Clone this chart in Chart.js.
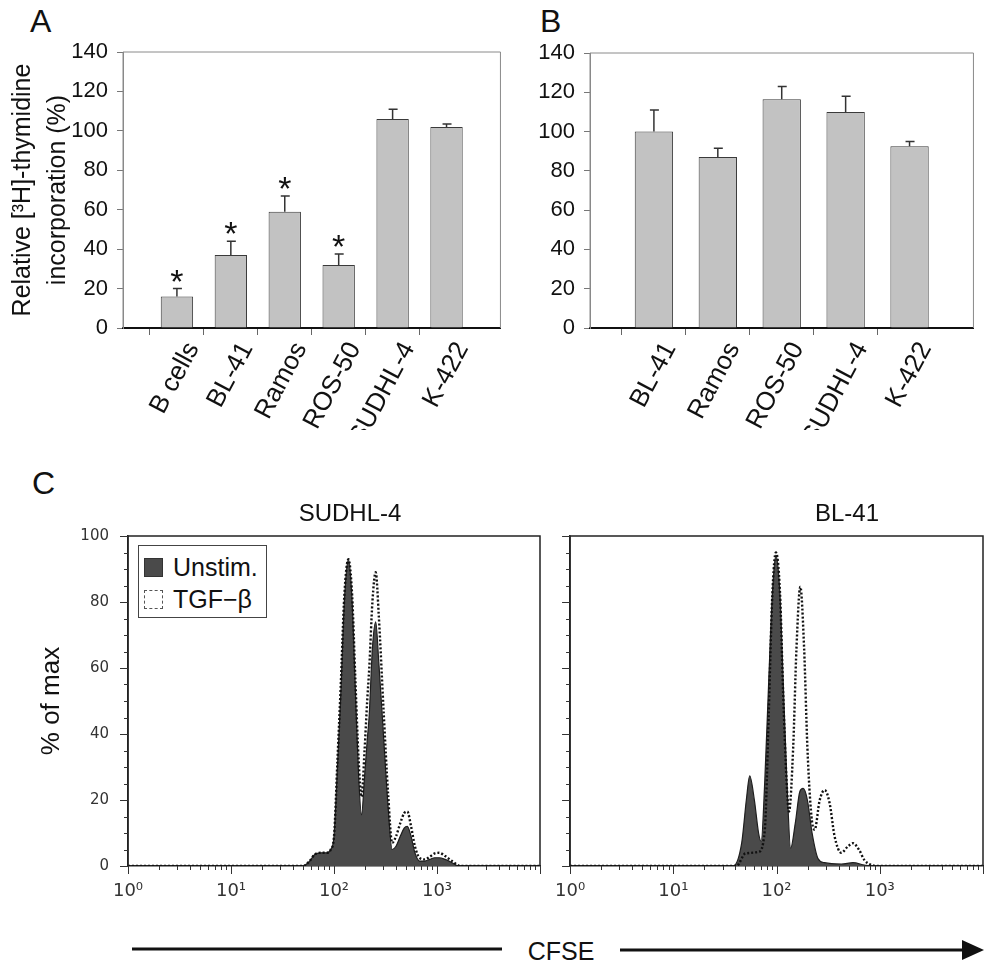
<!DOCTYPE html>
<html>
<head>
<meta charset="utf-8">
<script src="https://cdn.jsdelivr.net/npm/chart.js@4.4.1/dist/chart.umd.min.js"></script>
<style>
  html,body{margin:0;padding:0;background:#fff;}
  #wrap{position:relative;width:1003px;height:963px;background:#fff;overflow:hidden;font-family:"Liberation Sans",Arial,Helvetica,sans-serif;color:#111;}
  canvas{position:absolute;}
  .letter{position:absolute;font-size:32px;line-height:32px;color:#111;}
  .ctitle{position:absolute;font-size:24px;line-height:24px;color:#111;transform:translateX(-50%);white-space:nowrap;}
  #legend{position:absolute;left:138px;top:545px;width:129px;height:73px;border:1px solid #444;box-sizing:border-box;background:#fff;}
  .lrow{position:absolute;left:5px;height:24px;font-size:25px;line-height:24px;color:#111;white-space:nowrap;}
  .lsw{display:inline-block;width:19px;height:19px;box-sizing:border-box;vertical-align:-1px;margin-right:10px;}
</style>
</head>
<body>
<div id="wrap">
  <div class="letter" style="left:30px;top:5px;">A</div>
  <div class="letter" style="left:540px;top:5px;">B</div>
  <div class="letter" style="left:32px;top:467px;">C</div>
  <canvas id="cA" width="530" height="430" style="left:0;top:0;"></canvas>
  <canvas id="cB" width="503" height="430" style="left:500px;top:0;"></canvas>
  <canvas id="cC1" width="555" height="420" style="left:0;top:490px;"></canvas>
  <canvas id="cC2" width="463" height="420" style="left:540px;top:490px;"></canvas>
  <div class="ctitle" style="left:350px;top:501px;">SUDHL-4</div>
  <div class="ctitle" style="left:847px;top:501px;">BL-41</div>
  <div id="legend">
    <div class="lrow" style="top:9px;"><span class="lsw" style="background:#4a4a4a;border:1px solid #333;"></span>Unstim.</div>
    <div class="lrow" style="top:41px;"><span class="lsw" style="border:1px dashed #555;"></span>TGF−β</div>
  </div>
  <svg style="position:absolute;left:0;top:930px;" width="1003" height="40">
    <line x1="132" y1="19" x2="502" y2="19" stroke="#111" stroke-width="3"/>
    <line x1="620" y1="20" x2="964" y2="20" stroke="#111" stroke-width="3"/>
    <polygon points="962,10 984,20 962,30" fill="#111"/>
    <text x="561" y="30" font-size="25" text-anchor="middle" fill="#111" font-family="Liberation Sans, Arial, sans-serif">CFSE</text>
  </svg>
</div>
<script>
// ---------------- DATA ----------------
const catsA = ['B cells', 'BL-41', 'Ramos', 'ROS-50', 'SUDHL-4', 'K-422'];
const valsA = [16, 37, 59, 32, 106, 102];
const errA  = [4, 7, 8, 5.5, 5, 1.5];
const sigA  = [true, true, true, true, false, false];

const catsB = ['BL-41', 'Ramos', 'ROS-50', 'SUDHL-4', 'K-422'];
const valsB = [100, 87, 116.5, 110, 92.5];
const errB  = [11, 4.5, 6.5, 8, 2.5];
const sigB  = [false, false, false, false, false];

const barTicks = [0, 20, 40, 60, 80, 100, 120, 140];
const histYTicks = [0, 20, 40, 60, 80, 100];
const histXTickLabels = ['10⁰', '10¹', '10²', '10³'];

// SUDHL-4 histograms (CFSE value, % of max)
const sudUnstimX = [1, 50, 58, 65, 75, 85, 93, 100, 108, 116, 126, 138, 150, 161, 173, 185, 198, 210, 220, 236, 254, 272, 303, 335, 367, 400, 440, 480, 515, 560, 610, 676, 760, 850, 950, 1050, 1200, 1400, 1600, 10000];
const sudUnstimY = [0, 0, 1.5, 3.5, 4, 4, 5, 9, 30, 51, 80, 93, 80, 54, 28, 15.5, 27, 38, 46, 66, 74, 62, 39, 18, 5, 6, 9, 11.5, 12, 9, 4, 1.5, 1.5, 2, 2.5, 2.5, 2, 1, 0, 0];
const sudTgfX = [1, 50, 58, 65, 75, 85, 93, 100, 108, 116, 126, 138, 150, 161, 173, 185, 198, 210, 220, 236, 254, 272, 303, 335, 367, 400, 440, 480, 515, 560, 610, 676, 760, 850, 950, 1050, 1200, 1400, 1700, 10000];
const sudTgfY = [0, 0, 1.5, 3.5, 4, 4, 5, 9, 32, 54, 82, 93, 82, 57, 33, 21, 35, 50, 60, 80, 89, 76, 47, 22, 7, 9, 13, 16, 16.5, 12, 6, 2.5, 2, 2.8, 3.8, 4, 3, 1.5, 0, 0];

// BL-41 histograms
const blUnstimX = [1, 38, 46, 51, 55, 61, 67, 71, 77, 84, 91, 98.6, 108, 116, 126, 137, 152, 168, 181, 199, 221, 252, 292, 425, 550, 710, 830, 10000];
const blUnstimY = [0, 0, 7, 20, 27.3, 20, 10, 7.4, 26, 56, 82, 94.2, 82, 56, 26, 5.4, 13, 22.5, 23.5, 20, 10, 2.3, 1, 0.6, 1, 0.3, 0, 0];
const blTgfX = [1, 41, 50, 67, 77, 84, 91, 98.6, 108, 116, 125, 132, 145, 156, 170, 185, 199, 218, 234, 262, 293, 327, 365, 424, 490, 550, 633, 710, 830, 970, 10000];
const blTgfY = [0, 0, 3.8, 4.3, 11, 46, 82, 95, 83, 52, 26, 16.5, 36, 66, 84.6, 66, 36, 15, 11, 20, 23, 19, 9, 4, 5.9, 6.9, 4.8, 1.8, 0.3, 0, 0];

// ---------------- HELPERS ----------------
const FAM = '"Liberation Sans", Arial, Helvetica, sans-serif';
const FAM2 = '"DejaVu Sans", Verdana, sans-serif';
Chart.defaults.font.family = FAM;
Chart.defaults.color = '#111';

const pad = arr => ['', ...arr, ''];
const padN = arr => [null, ...arr, null];
const toXY = (xs, ys) => xs.map((x, i) => ({x: x, y: ys[i]}));

const framePlugin = {
  id: 'frame',
  afterDatasetsDraw(chart, args, o) {
    const {left, top, right, bottom} = chart.chartArea;
    const ctx = chart.ctx;
    ctx.save();
    ctx.strokeStyle = o.color || '#888';
    ctx.lineWidth = o.width || 1;
    ctx.beginPath();
    ctx.moveTo(left, bottom);
    ctx.lineTo(left, top);
    ctx.lineTo(right, top);
    ctx.lineTo(right, bottom);
    ctx.stroke();
    ctx.restore();
  }
};

const errPlugin = {
  id: 'errbars',
  afterDatasetsDraw(chart, args, o) {
    if (!o || !o.err) return;
    const meta = chart.getDatasetMeta(0);
    const ys = chart.scales.y;
    const vals = chart.data.datasets[0].data;
    const ctx = chart.ctx;
    ctx.save();
    meta.data.forEach((bar, i) => {
      const v = vals[i];
      const e = o.err[i];
      if (v == null || e == null) return;
      const x = bar.x;
      const y0 = ys.getPixelForValue(v);
      const y1 = ys.getPixelForValue(v + e);
      ctx.strokeStyle = '#333';
      ctx.lineWidth = 1.5;
      ctx.beginPath();
      ctx.moveTo(x, y0);
      ctx.lineTo(x, y1);
      ctx.moveTo(x - 4, y1);
      ctx.lineTo(x + 5, y1);
      ctx.stroke();
      if (o.sig && o.sig[i]) {
        ctx.fillStyle = '#111';
        ctx.font = '34px ' + FAM;
        ctx.textAlign = 'center';
        ctx.textBaseline = 'alphabetic';
        ctx.fillText('*', x, y1 + 4);
      }
    });
    ctx.restore();
  }
};

// tick marks for histogram axes (major long, minor short)
const histTicks = {
  id: 'histTicks',
  afterDatasetsDraw(chart) {
    const ctx = chart.ctx;
    const xs = chart.scales.x, ys = chart.scales.y;
    const {left, bottom} = chart.chartArea;
    ctx.save();
    ctx.strokeStyle = '#333';
    ctx.lineWidth = 1;
    ctx.beginPath();
    xs.ticks.forEach(t => {
      const v = t.value;
      const e = Math.floor(Math.log10(v) + 1e-9);
      const s = v / Math.pow(10, e);
      if (Math.abs(s - Math.round(s)) > 1e-6) return;
      const px = Math.round(xs.getPixelForValue(v)) + 0.5;
      const len = Math.round(s) === 1 ? 8 : 4;
      ctx.moveTo(px, bottom);
      ctx.lineTo(px, bottom + len);
    });
    ys.ticks.forEach(t => {
      const py = Math.round(ys.getPixelForValue(t.value)) + 0.5;
      const len = histYTicks.includes(t.value) ? 8 : 4;
      ctx.moveTo(left, py);
      ctx.lineTo(left - len, py);
    });
    ctx.stroke();
    ctx.restore();
  }
};

function barChart(id, cats, vals, errs, sigs, padTop, padRight, yWidth, withTitle) {
  const n = cats.length + 2;
  const yScale = {
    min: 0, max: 140,
    afterBuildTicks: s => { s.ticks = barTicks.map(v => ({value: v})); },
    ticks: {font: {size: 22}, color: '#111', padding: 9},
    grid: {drawOnChartArea: false, tickLength: 6, tickColor: '#777'},
    border: {color: '#888', width: 1},
    afterFit: s => { s.width = yWidth; }
  };
  if (withTitle) {
    yScale.title = {
      display: true,
      text: ['Relative [³H]-thymidine', 'incorporation (%)'],
      font: {size: 25, lineHeight: 1.4},
      color: '#111',
      padding: {top: 6, bottom: 0}
    };
  }
  return new Chart(document.getElementById(id), {
    type: 'bar',
    data: {
      labels: pad(cats),
      datasets: [{
        data: padN(vals),
        backgroundColor: '#c2c2c2',
        borderColor: '#3a3a3a',
        borderWidth: 1,
        barPercentage: 0.6,
        categoryPercentage: 1
      }]
    },
    options: {
      responsive: false,
      animation: false,
      events: [],
      layout: {padding: {top: padTop, right: padRight, left: 0, bottom: 0}},
      plugins: {
        legend: {display: false},
        tooltip: {enabled: false},
        errbars: {err: padN(errs), sig: padN(sigs)},
        frame: {color: '#8a8a8a', width: 1}
      },
      scales: {
        x: {
          offset: false,
          grid: {
            drawOnChartArea: false, tickLength: 7,
            tickColor: ctx => (ctx.index === 0 || ctx.index === n - 1) ? 'rgba(0,0,0,0)' : '#666'
          },
          border: {color: '#111', width: 2},
          ticks: {font: {size: 26}, color: '#111', maxRotation: 62, minRotation: 62, autoSkip: false, padding: 2, labelOffset: 16},
          afterFit: s => { s.height = 102; }
        },
        y: yScale
      }
    },
    plugins: [framePlugin, errPlugin]
  });
}

barChart('cA', catsA, valsA, errA, sigA, 52, 16, 123, true);
barChart('cB', catsB, valsB, errB, sigB, 53, 22, 90, false);

function histChart(id, ux, uy, tx, ty, yWidth, padRight, showY) {
  const yScale = {
    min: 0, max: 100,
    ticks: {
      stepSize: 5, autoSkip: false,
      callback: v => (showY && histYTicks.includes(v)) ? String(v) : '',
      font: {size: 15, family: FAM2}, color: '#333', padding: 19
    },
    grid: {drawOnChartArea: false, drawTicks: false},
    border: {color: '#222', width: 1.5},
    afterFit: s => { s.width = yWidth; }
  };
  if (showY) {
    yScale.title = {display: true, text: '% of max', font: {size: 26}, color: '#111', padding: {top: 36, bottom: 0}};
  }
  return new Chart(document.getElementById(id), {
    type: 'line',
    data: {
      datasets: [
        {
          label: 'TGF−β',
          data: toXY(tx, ty),
          borderColor: '#111',
          borderWidth: 2.4,
          borderDash: [2, 2],
          fill: false,
          pointRadius: 0,
          cubicInterpolationMode: 'monotone'
        },
        {
          label: 'Unstim.',
          data: toXY(ux, uy),
          borderColor: '#1e1e1e',
          backgroundColor: '#4a4a4a',
          borderWidth: 1.2,
          fill: 'origin',
          pointRadius: 0,
          cubicInterpolationMode: 'monotone'
        }
      ]
    },
    options: {
      responsive: false,
      animation: false,
      events: [],
      layout: {padding: {top: 46, right: padRight, left: 0, bottom: 0}},
      plugins: {
        legend: {display: false},
        tooltip: {enabled: false},
        frame: {color: '#222', width: 1.5}
      },
      scales: {
        x: {
          type: 'logarithmic', min: 1, max: 10000,
          grid: {drawOnChartArea: false, drawTicks: false},
          border: {color: '#222', width: 1.5},
          ticks: {
            autoSkip: false, maxRotation: 0, minRotation: 0,
            callback: v => {
              const e = Math.log10(v);
              const r = Math.round(e);
              return (Math.abs(e - r) < 1e-9 && r >= 0 && r < histXTickLabels.length) ? histXTickLabels[r] : '';
            },
            font: {size: 18, family: FAM2}, color: '#333', padding: 15
          },
          afterFit: s => { s.height = 44; }
        },
        y: yScale
      }
    },
    plugins: [framePlugin, histTicks]
  });
}

histChart('cC1', sudUnstimX, sudUnstimY, sudTgfX, sudTgfY, 128, 10, true);
histChart('cC2', blUnstimX, blUnstimY, blTgfX, blTgfY, 28, 20, false);
</script>
</body>
</html>
